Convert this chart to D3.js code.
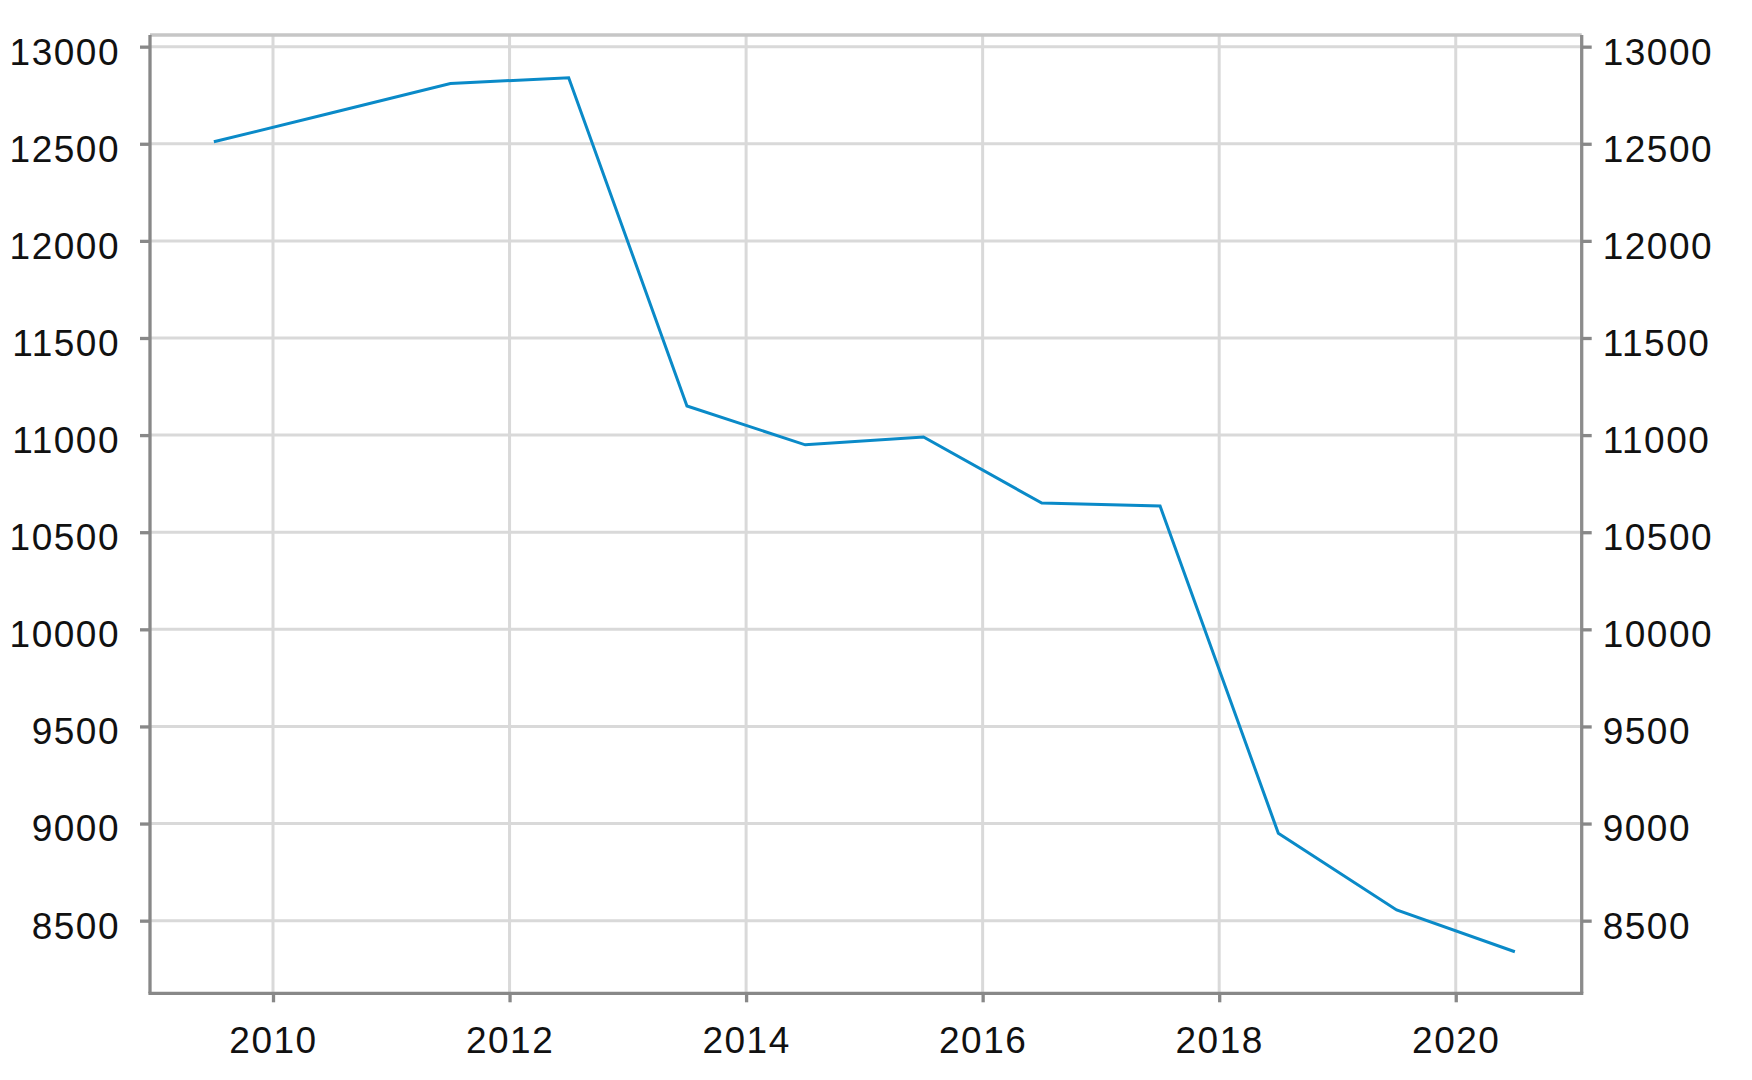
<!DOCTYPE html>
<html>
<head>
<meta charset="utf-8">
<script src="https://cdn.jsdelivr.net/npm/d3@7"></script>
<style>
    body { margin: 0; background: #fff; }
    .axis text { font-family: "Liberation Sans", Arial, sans-serif; font-size: 37px; fill: #111; letter-spacing: 1.5px; }
    .axis path { display: none; }
    .axis line { stroke: #888; stroke-width: 3.3; }
    .grid line { stroke: #d9d9d9; stroke-width: 3; }
</style>
</head>
<body>
<svg id="chart"></svg>
<script>
// year midpoints and values
const years = [2009.5, 2010.5, 2011.5, 2012.5, 2013.5, 2014.5, 2015.5, 2016.5, 2017.5, 2018.5, 2019.5, 2020.5];
const values = [12510, 12660, 12810, 12840, 11150, 10950, 10990, 10650, 10635, 8950, 8555, 8340];
const xTicks = [2010, 2012, 2014, 2016, 2018, 2020];
const yTicks = [8500, 9000, 9500, 10000, 10500, 11000, 11500, 12000, 12500, 13000];

class LineChart {
    constructor(selector, width, height) {
        this.width = width;
        this.height = height;
        this.margin = {top: 35, right: 170.3, bottom: 86.7, left: 150};
        this.svg = d3.select(selector)
            .attr("width", width)
            .attr("height", height);
        this.innerW = width - this.margin.left - this.margin.right;
        this.innerH = height - this.margin.top - this.margin.bottom;
        this.g = this.svg.append("g")
            .attr("transform", `translate(${this.margin.left},${this.margin.top})`);
    }

    render() {
        const x = d3.scaleLinear().domain([2008.96, 2021.065]).range([0, this.innerW]);
        const y = d3.scaleLinear().domain([8126, 13060]).range([this.innerH, 0]);

        // grid
        this.g.append("g").attr("class", "grid")
            .selectAll("line.h").data(yTicks).enter().append("line")
            .attr("x1", 0).attr("x2", this.innerW)
            .attr("y1", d => y(d)).attr("y2", d => y(d));
        this.g.append("g").attr("class", "grid")
            .selectAll("line.v").data(xTicks).enter().append("line")
            .attr("y1", 0).attr("y2", this.innerH)
            .attr("x1", d => x(d)).attr("x2", d => x(d));

        // frame: top light, others darker
        this.g.append("line")
            .attr("x1", 0).attr("x2", this.innerW).attr("y1", 0).attr("y2", 0)
            .attr("stroke", "#c6c6c6").attr("stroke-width", 3.3);
        this.g.append("line")
            .attr("x1", this.innerW).attr("x2", this.innerW).attr("y1", 0).attr("y2", this.innerH)
            .attr("stroke", "#8c8c8c").attr("stroke-width", 3.3);
        this.g.append("line")
            .attr("x1", 0).attr("x2", 0).attr("y1", 0).attr("y2", this.innerH)
            .attr("stroke", "#888").attr("stroke-width", 3.3);
        this.g.append("line")
            .attr("x1", -1.6).attr("x2", this.innerW + 1.6).attr("y1", this.innerH).attr("y2", this.innerH)
            .attr("stroke", "#888").attr("stroke-width", 3.3);

        // axes
        this.g.append("g").attr("class", "axis axis--y")
            .call(d3.axisLeft(y).tickValues(yTicks).tickSize(10).tickPadding(20).tickFormat(d3.format("d")))
            .selectAll("text").attr("dy", "0.47em");
        this.g.append("g").attr("class", "axis axis--y2")
            .attr("transform", `translate(${this.innerW},0)`)
            .call(d3.axisRight(y).tickValues(yTicks).tickSize(10).tickPadding(11).tickFormat(d3.format("d")))
            .selectAll("text").attr("dy", "0.47em");
        this.g.append("g").attr("class", "axis axis--x")
            .attr("transform", `translate(0,${this.innerH})`)
            .call(d3.axisBottom(x).tickValues(xTicks).tickSize(9).tickPadding(24).tickFormat(d3.format("d")));

        // series
        const line = d3.line()
            .x((d, i) => x(years[i]))
            .y(d => y(d));
        this.g.append("path")
            .datum(values)
            .attr("fill", "none")
            .attr("stroke", "#0a8ac8")
            .attr("stroke-width", 3)
            .attr("stroke-linejoin", "miter")
            .attr("d", line);

        return this;
    }
}

new LineChart("#chart", 1752, 1080).render();
</script>
</body>
</html>
